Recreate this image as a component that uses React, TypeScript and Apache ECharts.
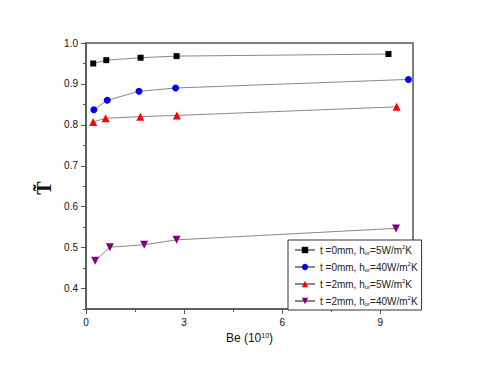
import React, { useEffect, useRef } from "react";
import * as echarts from "echarts";

// Series data (Be in 10^10, T~)
const s1x = [0.22, 0.62, 1.67, 2.77, 9.25];
const s1y = [0.95, 0.958, 0.964, 0.968, 0.973];
const s2x = [0.24, 0.65, 1.62, 2.74, 9.86];
const s2y = [0.837, 0.86, 0.882, 0.89, 0.911];
const s3x = [0.22, 0.6, 1.66, 2.78, 9.5];
const s3y = [0.807, 0.816, 0.82, 0.823, 0.844];
const s4x = [0.28, 0.73, 1.78, 2.77, 9.48];
const s4y = [0.468, 0.501, 0.507, 0.519, 0.547];

const seriesNames = [
  "t =0mm, hor=5W/m2K",
  "t =0mm, hor=40W/m2K",
  "t =2mm, hor=5W/m2K",
  "t =2mm, hor=40W/m2K",
];
const seriesRich = [
  "t =0mm, h{sub|or}=5W/m{sup|2}K",
  "t =0mm, h{sub|or}=40W/m{sup|2}K",
  "t =2mm, h{sub|or}=5W/m{sup|2}K",
  "t =2mm, h{sub|or}=40W/m{sup|2}K",
];
const seriesColors = ["#000000", "#0000ff", "#ff0000", "#800080"];
const seriesSymbols = ["rect", "circle", "triangle", "path://M0,0 L10,0 L5,9 Z"];
const seriesSizes = [6, 7, 8, 8];

const xMin = 0;
const xMax = 10;
const yMin = 0.35;
const yMax = 1.0;

const FONT = '"Liberation Sans", Arial, sans-serif';

export default function App() {
  const ref = useRef<HTMLDivElement>(null);
  useEffect(() => {
    if (!ref.current) return;
    const chart = echarts.init(ref.current, null, { renderer: "svg" });
    const xs = [s1x, s2x, s3x, s4x];
    const ys = [s1y, s2y, s3y, s4y];
    const richMap: Record<string, string> = {};
    seriesNames.forEach((n, i) => (richMap[n] = seriesRich[i]));

    const gl = 86, gt = 43, gw = 327, gh = 266;
    const pxPerX = gw / (xMax - xMin);
    const pxPerY = gh / (yMax - yMin);
    const axisColor = "#555";

    chart.setOption({
      animation: false,
      backgroundColor: "#fff",
      grid: [
        { left: gl, top: gt, width: gw, height: gh, show: true, borderColor: axisColor, borderWidth: 1.5 },
        { left: gl, top: gt, width: 9 * pxPerX, height: gh },
        { left: gl, top: gt, width: gw, height: (yMax - 0.4) * pxPerY },
      ],
      xAxis: [
        {
          type: "value", gridIndex: 0, min: xMin, max: xMax, interval: 1.5,
          name: "Be (10{sup|10})", nameLocation: "middle", nameGap: 16,
          nameTextStyle: {
            fontFamily: FONT, fontSize: 12, color: "#111",
            rich: { sup: { fontSize: 7, verticalAlign: "top", lineHeight: 13, fontFamily: FONT, color: "#111" } },
          },
          axisLine: { show: true, lineStyle: { color: axisColor, width: 1.5 } },
          axisTick: { show: true, inside: false, length: 3, lineStyle: { color: axisColor } },
          axisLabel: {
            margin: 8, fontFamily: FONT, fontSize: 10, color: "#111",
            showMaxLabel: false,
            formatter: (v: number) => (Math.abs(v / 3 - Math.round(v / 3)) < 1e-6 ? String(v) : ""),
          },
          splitLine: { show: false },
        },
        {
          type: "value", gridIndex: 1, min: 0, max: 9, interval: 3,
          axisLine: { show: false },
          axisTick: { show: true, inside: false, length: 5, lineStyle: { color: axisColor } },
          axisLabel: { show: false },
          splitLine: { show: false },
        },
        { type: "value", gridIndex: 2, min: 0, max: 10, show: false, splitLine: { show: false } },
      ],
      yAxis: [
        {
          type: "value", gridIndex: 0, min: yMin, max: yMax, interval: 0.05,
          axisLine: { show: true, lineStyle: { color: axisColor, width: 1.5 } },
          axisTick: { show: true, inside: false, length: 3, lineStyle: { color: axisColor } },
          axisLabel: {
            margin: 8, fontFamily: FONT, fontSize: 10, color: "#111",
            formatter: (v: number) =>
              Math.abs(v * 10 - Math.round(v * 10)) < 1e-6 ? v.toFixed(1) : "",
          },
          splitLine: { show: false },
        },
        { type: "value", gridIndex: 1, min: 0, max: 1, show: false, splitLine: { show: false } },
        {
          type: "value", gridIndex: 2, min: 0.4, max: yMax, interval: 0.1,
          axisLine: { show: false },
          axisTick: { show: true, inside: false, length: 5, lineStyle: { color: axisColor } },
          axisLabel: { show: false },
          splitLine: { show: false },
        },
      ],
      legend: {
        orient: "vertical",
        left: 288,
        top: 240,
        padding: [4, 4, 3, 6],
        itemGap: 5,
        itemWidth: 20,
        itemHeight: 8,
        borderColor: "#333",
        borderWidth: 1,
        backgroundColor: "#fff",
        data: seriesNames,
        formatter: (name: string) => richMap[name],
        textStyle: {
          fontFamily: FONT, fontSize: 10, color: "#222", lineHeight: 12,
          rich: {
            sub: { fontSize: 6, verticalAlign: "bottom", lineHeight: 12, fontFamily: FONT, color: "#222" },
            sup: { fontSize: 6, verticalAlign: "top", lineHeight: 12, fontFamily: FONT, color: "#222" },
          },
        },
      },
      graphic: [
        {
          type: "text",
          x: 44,
          y: 188,
          rotation: Math.PI / 2,
          style: {
            text: "T\u0303",
            font: 'bold 20px "Liberation Serif", serif',
            fill: "#111",
            align: "center",
            verticalAlign: "middle",
          },
        },
      ],
      series: seriesNames.map((name, i) => ({
        name,
        type: "line",
        xAxisIndex: 0,
        yAxisIndex: 0,
        data: xs[i].map((x, j) => [x, ys[i][j]]),
        symbol: seriesSymbols[i],
        symbolSize: seriesSizes[i],
        showAllSymbol: true,
        lineStyle: { color: "#888", width: 1 },
        itemStyle: { color: seriesColors[i], borderWidth: 0 },
        z: 3,
      })),
    });
    return () => chart.dispose();
  }, []);
  return (
    <div
      ref={ref}
      style={{ position: "absolute", left: 0, top: 0, width: 480, height: 372 }}
    />
  );
}
